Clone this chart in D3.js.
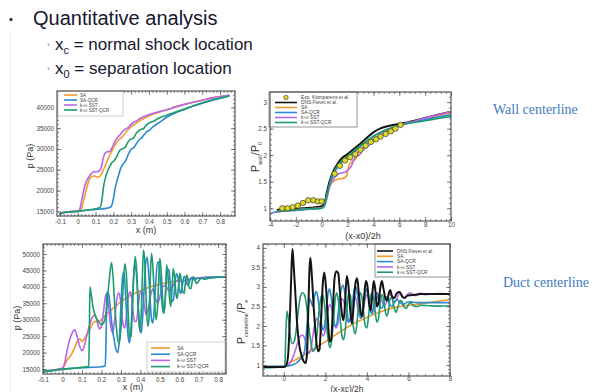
<!DOCTYPE html>
<html>
<head>
<meta charset="utf-8">
<script src="https://cdn.jsdelivr.net/npm/d3@7"></script>
<style>
  html, body { margin: 0; padding: 0; background: #fff; }
  svg { display: block; }
</style>
</head>
<body>
<svg id="slide" width="601" height="392"></svg>
<script>
// ---------- labels ----------
const modelNames = ["SA", "SA-QCR", "k-\u03C9 SST", "k-\u03C9 SST-QCR"];
const expName = "Exp. Klomparens et al.";
const dnsName = "DNS Fievet et al.";

// ---------- tick values ----------
const wallXTicks = [-0.1, 0, 0.1, 0.2, 0.3, 0.4, 0.5, 0.6, 0.7, 0.8];
const wallYTicks = [15000, 20000, 25000, 30000, 35000, 40000];
const wallNormXTicks = [-4, -2, 0, 2, 4, 6, 8, 10];
const wallNormYTicks = [1, 1.5, 2, 2.5, 3];
const ductXTicks = [-0.1, 0, 0.1, 0.2, 0.3, 0.4, 0.5, 0.6, 0.7, 0.8];
const ductYTicks = [15000, 20000, 25000, 30000, 35000, 40000, 45000, 50000];
const ductNormXTicks = [0, 2, 4, 6, 8];
const ductNormYTicks = [1, 1.5, 2, 2.5, 3, 3.5, 4];

// ---------- wall centerline: p (Pa) vs x (m) ----------
const wallSA = [[-0.1,14450],[-0.08,14750],[-0.06,14850],[-0.03,14950],[0,15050],[0.015,15300],[0.025,16200],[0.035,18000],[0.05,20600],[0.065,22600],[0.08,23400],[0.095,23500],[0.11,23200],[0.125,23400],[0.14,24600],[0.155,26000],[0.17,27600],[0.185,29000],[0.2,30200],[0.215,31300],[0.23,32200],[0.245,32700],[0.26,33400],[0.28,34500],[0.3,35300],[0.32,35900],[0.35,36800],[0.38,37500],[0.42,38300],[0.46,38900],[0.5,39400],[0.55,40100],[0.6,40700],[0.65,41200],[0.7,41700],[0.75,42200],[0.8,42600],[0.85,42900]];
const wallSAQCR = [[-0.1,14300],[-0.08,14650],[-0.05,14800],[0,15000],[0.05,15250],[0.1,15450],[0.15,15650],[0.18,15900],[0.19,16300],[0.2,18000],[0.21,20500],[0.225,23000],[0.24,25200],[0.255,26400],[0.27,27200],[0.285,28800],[0.3,29900],[0.315,30300],[0.33,31300],[0.345,32200],[0.36,32700],[0.375,33500],[0.39,34200],[0.405,34500],[0.42,35200],[0.44,35800],[0.46,36400],[0.5,37600],[0.55,38700],[0.6,39500],[0.65,40300],[0.7,41000],[0.75,41600],[0.8,42200],[0.85,42700]];
const wallSST = [[-0.1,14450],[-0.08,14750],[-0.06,14850],[-0.03,14950],[0,15050],[0.01,15400],[0.02,17200],[0.03,19400],[0.045,21800],[0.06,23100],[0.075,24000],[0.09,24500],[0.105,24500],[0.12,24700],[0.132,25600],[0.142,27600],[0.152,28900],[0.165,29300],[0.18,29400],[0.19,30100],[0.2,31000],[0.21,31900],[0.222,32700],[0.238,33400],[0.255,34300],[0.27,34800],[0.285,35200],[0.3,35900],[0.315,36400],[0.33,36700],[0.35,37300],[0.38,37900],[0.42,38500],[0.46,39000],[0.5,39400],[0.55,40100],[0.6,40700],[0.65,41200],[0.7,41700],[0.75,42200],[0.8,42600],[0.85,42900]];
const wallSSTQCR = [[-0.1,14400],[-0.08,14700],[-0.05,14850],[0,15000],[0.05,15300],[0.1,15600],[0.125,15900],[0.135,17500],[0.145,21000],[0.16,23800],[0.175,25400],[0.19,26600],[0.205,27200],[0.22,28200],[0.235,29600],[0.25,30000],[0.265,30300],[0.28,31500],[0.295,32300],[0.31,32500],[0.33,33800],[0.35,34600],[0.37,34900],[0.39,35900],[0.41,36400],[0.43,36700],[0.45,37300],[0.5,38100],[0.55,38900],[0.6,39600],[0.65,40400],[0.7,41100],[0.75,41700],[0.8,42200],[0.85,42700]];

// ---------- wall centerline: P_wall/P_0 vs (x-x0)/2h ----------
const wallNormExp = [[-3.05,1.0],[-2.65,1.0],[-2.25,1.02],[-1.85,1.05],[-1.45,1.1],[-1.05,1.15],[-0.65,1.15],[-0.3,1.13],[0.0,1.13],[1.0,1.65],[1.4,1.8],[1.8,1.9],[2.2,1.96],[2.6,2.02],[3.0,2.1],[3.4,2.18],[3.8,2.25],[4.2,2.3],[4.55,2.35],[4.95,2.4],[5.35,2.45],[5.7,2.5],[6.1,2.57]];
const wallNormDNS = [[-3.4,0.97],[-2.5,0.98],[-1.5,1.0],[-0.5,1.02],[0,1.04],[0.2,1.08],[0.4,1.3],[0.6,1.5],[0.9,1.7],[1.2,1.83],[1.5,1.93],[2.0,2.02],[2.5,2.12],[3.0,2.22],[3.5,2.33],[4.0,2.43],[4.5,2.5],[5.0,2.54],[5.5,2.57],[6.0,2.59],[6.5,2.61],[7.0,2.64],[8.0,2.7],[9.0,2.76],[10,2.82]];
const wallNormSA = [[-3.6,0.93],[-3,0.95],[-2,0.97],[-1,0.99],[0,1.01],[0.2,1.05],[0.4,1.25],[0.7,1.45],[1.0,1.52],[1.3,1.55],[1.6,1.56],[1.9,1.6],[2.1,1.8],[2.3,1.88],[2.6,1.92],[2.9,2.08],[3.2,2.15],[3.5,2.22],[3.8,2.28],[4.2,2.33],[4.6,2.39],[5.0,2.44],[5.5,2.5],[6.0,2.55],[6.5,2.59],[7.0,2.62],[8.0,2.68],[9.0,2.74],[10,2.8]];
const wallNormSAQCR = [[-4,0.9],[-3.5,0.93],[-2,0.96],[-1,0.98],[0,1.0],[0.2,1.04],[0.4,1.2],[0.7,1.5],[1.0,1.68],[1.5,1.85],[2.0,1.96],[2.5,2.06],[3.0,2.17],[3.5,2.26],[4.0,2.35],[4.5,2.42],[5.0,2.48],[5.5,2.52],[6.0,2.56],[7.0,2.62],[8.0,2.67],[9.0,2.72],[10,2.76]];
const wallNormSST = [[-3.6,0.93],[-2,0.97],[-1,0.99],[0,1.0],[0.3,1.1],[0.6,1.4],[1.0,1.58],[1.4,1.66],[1.8,1.68],[2.1,1.74],[2.3,1.8],[2.6,1.97],[2.9,2.0],[3.2,2.1],[3.5,2.15],[3.8,2.22],[4.1,2.3],[4.5,2.38],[5.0,2.45],[5.5,2.5],[6.0,2.56],[6.5,2.6],[7,2.63],[8,2.7],[9,2.76],[10,2.82]];
const wallNormSSTQCR = [[-3.5,0.94],[-2,0.97],[-1,0.99],[0,1.0],[0.2,1.05],[0.4,1.25],[0.7,1.55],[1.0,1.72],[1.5,1.88],[2.0,1.98],[2.5,2.08],[3.0,2.18],[3.5,2.27],[4.0,2.36],[4.5,2.43],[5.0,2.48],[5.5,2.52],[6.0,2.56],[7.0,2.61],[8.0,2.65],[9.0,2.69],[10,2.73]];

// ---------- duct centerline: p (Pa) vs x (m) ----------
const ductSA = [[-0.1,14300],[-0.05,14700],[0,15200],[0.01,16000],[0.02,17300],[0.03,18200],[0.045,19300],[0.06,21200],[0.075,23300],[0.09,24200],[0.1,23400],[0.11,24000],[0.125,25500],[0.14,27000],[0.155,28800],[0.17,29500],[0.185,29400],[0.2,30000],[0.215,31000],[0.23,32000],[0.245,32600],[0.26,33500],[0.28,34500],[0.3,35500],[0.32,36300],[0.34,37100],[0.37,38000],[0.4,38800],[0.43,39600],[0.47,40300],[0.5,40800],[0.55,41400],[0.6,41900],[0.65,42300],[0.7,42700],[0.75,42900],[0.8,43000],[0.84,43000]];
const ductSAQCR = [[-0.1,14200],[0,15000],[0.1,15400],[0.2,15700],[0.22,16000],[0.224,25000],[0.228,37500],[0.235,38600],[0.245,34000],[0.255,28000],[0.265,24000],[0.275,21000],[0.285,20000],[0.292,24000],[0.3,34000],[0.308,42500],[0.315,44500],[0.322,40000],[0.33,31000],[0.338,24500],[0.345,23000],[0.352,27500],[0.36,37000],[0.368,45000],[0.375,46500],[0.382,42000],[0.39,33000],[0.398,27000],[0.405,26000],[0.412,31000],[0.42,40000],[0.428,47500],[0.435,49000],[0.442,45000],[0.45,36500],[0.458,30000],[0.465,29000],[0.472,34000],[0.48,42000],[0.488,47500],[0.495,47500],[0.502,42500],[0.51,35500],[0.518,32000],[0.525,34000],[0.532,40500],[0.54,45500],[0.547,45000],[0.555,40000],[0.562,35500],[0.57,36000],[0.578,41000],[0.585,44000],[0.593,43000],[0.6,39500],[0.608,38000],[0.616,40500],[0.625,43200],[0.633,42500],[0.642,40500],[0.652,41500],[0.662,42800],[0.675,42200],[0.69,42500],[0.71,42700],[0.74,42800],[0.78,43000],[0.84,43000]];
const ductSST = [[-0.1,14300],[0,15200],[0.01,16500],[0.02,19500],[0.035,23500],[0.05,26000],[0.063,26900],[0.075,25000],[0.088,22000],[0.1,20600],[0.11,21500],[0.12,24000],[0.135,27500],[0.15,30300],[0.16,31300],[0.168,31400],[0.178,29500],[0.19,27200],[0.2,28000],[0.21,32000],[0.22,36800],[0.228,38000],[0.238,33000],[0.248,28000],[0.258,26000],[0.268,30000],[0.28,36500],[0.29,38200],[0.3,35000],[0.31,29000],[0.32,27500],[0.33,32000],[0.34,37500],[0.35,38500],[0.36,34000],[0.37,29500],[0.38,29500],[0.39,34500],[0.4,38500],[0.41,38500],[0.42,34500],[0.43,31500],[0.44,33000],[0.455,38000],[0.465,39300],[0.475,37000],[0.49,35000],[0.5,37000],[0.515,40000],[0.53,40500],[0.545,38800],[0.56,39500],[0.58,41500],[0.6,42000],[0.62,41800],[0.65,42300],[0.7,42700],[0.75,42900],[0.8,43000],[0.84,43000]];
const ductSSTQCR = [[-0.1,14200],[-0.05,14500],[0,14900],[0.05,15200],[0.1,15500],[0.135,15800],[0.138,25000],[0.141,40000],[0.148,37500],[0.158,33500],[0.17,31000],[0.185,29500],[0.2,28500],[0.215,29500],[0.228,34000],[0.24,42000],[0.252,47400],[0.26,43000],[0.268,35000],[0.278,27000],[0.29,22500],[0.3,27000],[0.31,38000],[0.32,47000],[0.328,44000],[0.337,33000],[0.345,24500],[0.352,25000],[0.36,34000],[0.367,44500],[0.374,49200],[0.382,44000],[0.39,33000],[0.397,26500],[0.404,31000],[0.41,42000],[0.416,51200],[0.423,47500],[0.43,36000],[0.438,28000],[0.444,30000],[0.45,40500],[0.457,50200],[0.464,46500],[0.472,37000],[0.48,30000],[0.487,32500],[0.494,41500],[0.5,48700],[0.507,45000],[0.514,37000],[0.521,32000],[0.528,36000],[0.535,46700],[0.542,43500],[0.55,36500],[0.556,34000],[0.562,38500],[0.569,45600],[0.576,43000],[0.584,37500],[0.59,36500],[0.596,40000],[0.603,44100],[0.61,42000],[0.618,38500],[0.625,38000],[0.631,41000],[0.638,43600],[0.645,42000],[0.652,39500],[0.66,39500],[0.666,41500],[0.672,43100],[0.68,42000],[0.69,41000],[0.7,41800],[0.715,42600],[0.73,42300],[0.75,42600],[0.8,42900],[0.84,43000]];

// ---------- duct centerline: P_centerline/P_e vs (x-xc)/2h ----------
const ductNormDNS = [[-1,0.95],[0,0.95],[0.1,0.98],[0.2,1.2],[0.3,2.3],[0.38,3.6],[0.42,3.97],[0.47,3.6],[0.55,2.9],[0.65,2.0],[0.75,1.5],[0.85,1.25],[0.95,1.1],[1.05,1.05],[1.12,1.3],[1.18,2.4],[1.24,3.5],[1.28,3.75],[1.35,3.3],[1.45,2.4],[1.55,1.7],[1.65,1.35],[1.72,1.4],[1.8,2.2],[1.88,3.1],[1.95,3.37],[2.03,3.0],[2.12,2.2],[2.2,1.6],[2.28,1.65],[2.36,2.4],[2.45,3.25],[2.53,3.4],[2.62,3.35],[2.7,2.9],[2.8,2.3],[2.88,2.15],[2.95,2.6],[3.03,3.28],[3.1,3.1],[3.2,2.4],[3.28,2.06],[3.36,2.5],[3.45,3.1],[3.53,3.22],[3.62,2.8],[3.72,2.3],[3.78,2.25],[3.86,2.7],[3.95,3.15],[4.02,3.05],[4.1,2.6],[4.18,2.4],[4.26,2.8],[4.33,3.15],[4.4,2.95],[4.48,2.5],[4.56,2.6],[4.65,3.0],[4.72,3.15],[4.8,2.95],[4.9,2.7],[4.98,2.65],[5.06,2.85],[5.12,2.92],[5.22,2.75],[5.32,2.72],[5.45,2.85],[5.58,2.87],[5.7,2.75],[5.82,2.72],[5.95,2.78],[6.1,2.79],[6.3,2.8],[6.6,2.82],[7,2.82],[7.5,2.82],[8,2.82]];
const ductNormSA = [[-1,0.95],[0,0.96],[0.2,1.03],[0.5,1.12],[1.0,1.27],[1.5,1.43],[2.0,1.6],[2.5,1.78],[3.0,1.95],[3.5,2.1],[4.0,2.22],[4.5,2.33],[5.0,2.43],[5.5,2.49],[6.0,2.53],[6.5,2.56],[7.0,2.6],[7.5,2.64],[8.0,2.68]];
const ductNormSAQCR = [[-1,0.97],[0,0.97],[0.2,0.98],[0.4,1.0],[0.6,1.05],[0.8,1.15],[0.9,1.2],[1.0,1.35],[1.1,1.9],[1.18,2.5],[1.25,2.7],[1.32,2.6],[1.4,2.5],[1.48,2.75],[1.55,2.88],[1.62,2.8],[1.72,2.4],[1.8,2.1],[1.88,1.9],[1.96,2.0],[2.05,2.45],[2.12,2.8],[2.2,2.95],[2.28,2.75],[2.38,2.3],[2.46,2.0],[2.55,2.05],[2.65,2.5],[2.75,2.9],[2.85,3.05],[2.95,2.8],[3.05,2.4],[3.12,2.1],[3.2,2.15],[3.3,2.55],[3.4,2.95],[3.48,3.0],[3.56,2.75],[3.65,2.35],[3.72,2.2],[3.8,2.35],[3.9,2.75],[3.98,2.95],[4.06,2.8],[4.15,2.45],[4.24,2.3],[4.32,2.5],[4.42,2.8],[4.5,2.85],[4.58,2.65],[4.68,2.45],[4.78,2.5],[4.88,2.72],[4.98,2.75],[5.08,2.58],[5.2,2.5],[5.32,2.6],[5.45,2.68],[5.6,2.6],[5.75,2.55],[5.9,2.6],[6.1,2.62],[6.4,2.6],[7,2.6],[8,2.6]];
const ductNormSST = [[-1,0.95],[0,0.96],[0.2,1.0],[0.4,1.15],[0.6,1.45],[0.75,1.7],[0.88,1.77],[1.0,1.7],[1.1,1.45],[1.2,1.3],[1.3,1.4],[1.4,1.75],[1.5,2.05],[1.6,2.2],[1.7,2.1],[1.8,1.85],[1.9,1.75],[2.0,1.9],[2.1,2.3],[2.2,2.55],[2.3,2.45],[2.4,2.15],[2.5,1.95],[2.6,2.05],[2.7,2.45],[2.8,2.7],[2.9,2.6],[3.0,2.3],[3.1,2.1],[3.2,2.2],[3.3,2.55],[3.4,2.75],[3.5,2.65],[3.6,2.35],[3.7,2.2],[3.8,2.35],[3.9,2.65],[4.0,2.8],[4.1,2.7],[4.2,2.45],[4.3,2.35],[4.4,2.5],[4.5,2.75],[4.6,2.82],[4.7,2.7],[4.8,2.55],[4.9,2.55],[5.0,2.72],[5.1,2.82],[5.2,2.75],[5.3,2.62],[5.4,2.65],[5.5,2.78],[5.6,2.84],[5.7,2.78],[5.8,2.72],[5.9,2.76],[6.0,2.83],[6.1,2.85],[6.2,2.8],[6.35,2.78],[6.5,2.83],[6.65,2.84],[6.8,2.8],[7,2.82],[7.5,2.83],[8,2.82]];
const ductNormSSTQCR = [[-1,0.93],[0,0.95],[0.05,1.0],[0.1,1.8],[0.15,2.38],[0.22,2.2],[0.3,1.8],[0.4,1.55],[0.5,1.6],[0.6,1.9],[0.7,2.4],[0.8,2.75],[0.9,2.85],[1.0,2.8],[1.1,2.5],[1.2,2.0],[1.3,1.6],[1.4,1.35],[1.5,1.4],[1.6,1.8],[1.7,2.4],[1.8,2.75],[1.88,2.8],[1.96,2.55],[2.05,2.05],[2.15,1.6],[2.22,1.45],[2.3,1.6],[2.4,2.2],[2.48,2.7],[2.55,2.85],[2.63,2.65],[2.72,2.15],[2.8,1.75],[2.88,1.65],[2.96,1.9],[3.05,2.5],[3.12,2.85],[3.2,2.8],[3.28,2.35],[3.36,1.95],[3.44,1.8],[3.52,2.05],[3.6,2.55],[3.68,2.85],[3.76,2.75],[3.84,2.35],[3.92,2.0],[4.0,1.95],[4.08,2.25],[4.16,2.7],[4.24,2.85],[4.32,2.7],[4.4,2.35],[4.48,2.1],[4.56,2.2],[4.64,2.6],[4.72,2.8],[4.8,2.7],[4.88,2.4],[4.96,2.25],[5.04,2.4],[5.12,2.7],[5.2,2.72],[5.3,2.5],[5.4,2.35],[5.5,2.5],[5.6,2.65],[5.7,2.62],[5.8,2.48],[5.9,2.45],[6.0,2.55],[6.1,2.6],[6.25,2.52],[6.4,2.5],[6.6,2.53],[7,2.52],[7.5,2.51],[8,2.52]];

// ---------- styling ----------
const FONT = '"Liberation Sans", Arial, sans-serif';
const SERIF = '"Liberation Serif", "Times New Roman", serif';
const modelColors = ["#f39a2e", "#2a8ad4", "#b865e6", "#1d9b6c"];
const dnsColor = "#141414";

const svg = d3.select("#slide");

// faint slide margin rule
svg.append("line").attr("x1", 10.5).attr("x2", 10.5).attr("y1", 30).attr("y2", 392)
  .attr("stroke", "#e3edf7").attr("stroke-width", 1);

// ---------- slide heading ----------
svg.append("circle").attr("cx", 11).attr("cy", 19.5).attr("r", 1.7).attr("fill", "#3c3c55");
svg.append("text").attr("x", 33).attr("y", 25)
  .attr("font-family", FONT).attr("font-size", 20).attr("fill", "#16162e")
  .text("Quantitative analysis");

function subBullet(y, sub, rest) {
  svg.append("circle").attr("cx", 48.5).attr("cy", y - 5).attr("r", 1).attr("fill", "#9a9aae");
  const t = svg.append("text").attr("x", 55).attr("y", y)
    .attr("font-family", FONT).attr("font-size", 17).attr("fill", "#16162e");
  t.append("tspan").text("x");
  t.append("tspan").attr("font-size", 11).attr("dy", 4).text(sub);
  t.append("tspan").attr("dy", -4).text(rest);
}
subBullet(49.5, "c", " = normal shock location");
subBullet(73.5, "0", " = separation location");

// side captions
svg.append("text").attr("x", 493).attr("y", 114).attr("font-family", SERIF)
  .attr("font-size", 14).attr("fill", "#3f7bc4").text("Wall centerline");
svg.append("text").attr("x", 503).attr("y", 287).attr("font-family", SERIF)
  .attr("font-size", 14).attr("fill", "#3f7bc4").text("Duct centerline");

// ---------- panel drawing ----------
function minorValues(domain, step) {
  const out = [];
  const start = Math.ceil(domain[0] / step - 1e-9);
  const end = Math.floor(domain[1] / step + 1e-9);
  for (let i = start; i <= end; i++) out.push(+(i * step).toFixed(6));
  return out;
}

function drawPanel(p) {
  const x = d3.scaleLinear().domain(p.xDomain).range([p.left, p.right]);
  const y = d3.scaleLinear().domain(p.yDomain).range([p.bottom, p.top]);
  const g = svg.append("g");
  const clipId = "clip-" + p.id;
  g.append("clipPath").attr("id", clipId).append("rect")
    .attr("x", p.left).attr("y", p.top)
    .attr("width", p.right - p.left).attr("height", p.bottom - p.top);

  const plot = g.append("g").attr("clip-path", `url(#${clipId})`);
  const line = d3.line().x(d => x(d[0])).y(d => y(d[1])).curve(d3.curveMonotoneX);
  p.series.forEach(s => {
    plot.append("path").attr("d", line(s.data)).attr("fill", "none")
      .attr("stroke", s.color).attr("stroke-width", s.width || 1.6)
      .attr("stroke-linejoin", "round").attr("stroke-linecap", "round");
  });
  if (p.markers) {
    plot.selectAll("circle.exp").data(p.markers.data).join("circle")
      .attr("class", "exp")
      .attr("cx", d => x(d[0])).attr("cy", d => y(d[1])).attr("r", 2.7)
      .attr("fill", "#dcdc24").attr("stroke", "#4a4a3a").attr("stroke-width", 0.8);
  }

  // ticks on all four sides, pointing inward
  const tickStyle = sel => {
    sel.select(".domain").remove();
    sel.selectAll("line").attr("stroke", "#555").attr("stroke-width", 0.7);
    sel.selectAll("text").attr("font-family", FONT).attr("font-size", p.tickFont || 6.5).attr("fill", "#444");
  };
  const xMinor = minorValues(p.xDomain, p.xMinorStep);
  const yMinor = minorValues(p.yDomain, p.yMinorStep);
  g.append("g").attr("transform", `translate(0,${p.bottom})`)
    .call(d3.axisBottom(x).tickValues(xMinor).tickSize(-2).tickFormat("")).call(tickStyle);
  g.append("g").attr("transform", `translate(0,${p.top})`)
    .call(d3.axisTop(x).tickValues(xMinor).tickSize(-2).tickFormat("")).call(tickStyle);
  g.append("g").attr("transform", `translate(${p.left},0)`)
    .call(d3.axisLeft(y).tickValues(yMinor).tickSize(-2).tickFormat("")).call(tickStyle);
  g.append("g").attr("transform", `translate(${p.right},0)`)
    .call(d3.axisRight(y).tickValues(yMinor).tickSize(-2).tickFormat("")).call(tickStyle);

  g.append("g").attr("transform", `translate(0,${p.bottom})`)
    .call(d3.axisBottom(x).tickValues(p.xTicks).tickSize(-4).tickPadding(p.xPad || 4).tickFormat(p.xFmt))
    .call(tickStyle);
  g.append("g").attr("transform", `translate(0,${p.top})`)
    .call(d3.axisTop(x).tickValues(p.xTicks).tickSize(-4).tickFormat("")).call(tickStyle);
  g.append("g").attr("transform", `translate(${p.left},0)`)
    .call(d3.axisLeft(y).tickValues(p.yTicks).tickSize(-4).tickPadding(p.yPad || 3).tickFormat(p.yFmt))
    .call(tickStyle);
  g.append("g").attr("transform", `translate(${p.right},0)`)
    .call(d3.axisRight(y).tickValues(p.yTicks).tickSize(-4).tickFormat("")).call(tickStyle);

  // legend
  const L = p.legend;
  g.append("rect").attr("x", L.x).attr("y", L.y).attr("width", L.w).attr("height", L.h)
    .attr("fill", "#fff").attr("stroke", L.stroke).attr("stroke-width", 0.7);
  L.entries.forEach((e, i) => {
    const yy = L.y + L.first + i * L.step;
    if (e.marker) {
      g.append("circle").attr("cx", (L.lx0 + L.lx1) / 2).attr("cy", yy).attr("r", 2.2)
        .attr("fill", "#dcdc24").attr("stroke", "#4a4a3a").attr("stroke-width", 0.7);
    } else {
      g.append("line").attr("x1", L.lx0).attr("x2", L.lx1).attr("y1", yy).attr("y2", yy)
        .attr("stroke", e.color).attr("stroke-width", 1.6);
    }
    g.append("text").attr("x", L.tx).attr("y", yy).attr("dy", "0.35em")
      .attr("font-family", FONT).attr("font-size", L.fs).attr("fill", "#444").text(e.name);
  });

  // frame
  g.append("rect").attr("x", p.left).attr("y", p.top)
    .attr("width", p.right - p.left).attr("height", p.bottom - p.top)
    .attr("fill", "none").attr("stroke", "#555").attr("stroke-width", 1.2);
  return g;
}

const modelEntries = modelNames.map((n, i) => ({ name: n, color: modelColors[i] }));
const plainFmt = d => String(d);

// top-left: wall pressure
drawPanel({
  id: "wall", left: 57, right: 235, top: 91, bottom: 216,
  xDomain: [-0.117, 0.884], yDomain: [13870, 43920],
  xTicks: wallXTicks, yTicks: wallYTicks, xMinorStep: 0.02, yMinorStep: 1000,
  xFmt: plainFmt, yFmt: plainFmt, tickFont: 6.3,
  series: [
    { data: wallSA, color: modelColors[0] },
    { data: wallSAQCR, color: modelColors[1] },
    { data: wallSST, color: modelColors[2] },
    { data: wallSSTQCR, color: modelColors[3] }
  ],
  legend: { x: 58, y: 91, w: 65, h: 25, first: 4, step: 5, lx0: 64, lx1: 77, tx: 80, fs: 4.6,
    stroke: "#bbb", entries: modelEntries }
});

// top-right: normalised wall pressure
drawPanel({
  id: "wallnorm", left: 270, right: 451, top: 92, bottom: 221,
  xDomain: [-4, 10], yDomain: [0.76, 3.19],
  xTicks: wallNormXTicks, yTicks: wallNormYTicks, xMinorStep: 0.4, yMinorStep: 0.1,
  xFmt: plainFmt, yFmt: plainFmt, tickFont: 6.3, xPad: 2,
  series: [
    { data: wallNormDNS, color: dnsColor, width: 2 },
    { data: wallNormSA, color: modelColors[0] },
    { data: wallNormSAQCR, color: modelColors[1] },
    { data: wallNormSST, color: modelColors[2] },
    { data: wallNormSSTQCR, color: modelColors[3] }
  ],
  markers: { data: wallNormExp },
  legend: { x: 269, y: 92, w: 88, h: 35, first: 5.5, step: 5, lx0: 275, lx1: 297, tx: 301, fs: 4.8,
    stroke: "#666",
    entries: [{ name: expName, marker: true }, { name: dnsName, color: dnsColor }].concat(modelEntries) }
});

// bottom-left: duct pressure
drawPanel({
  id: "duct", left: 43, right: 226, top: 244, bottom: 374,
  xDomain: [-0.1, 0.84], yDomain: [13480, 53040],
  xTicks: ductXTicks, yTicks: ductYTicks, xMinorStep: 0.02, yMinorStep: 1000,
  xFmt: plainFmt, yFmt: plainFmt, tickFont: 6.3,
  series: [
    { data: ductSA, color: modelColors[0] },
    { data: ductSST, color: modelColors[2] },
    { data: ductSAQCR, color: modelColors[1] },
    { data: ductSSTQCR, color: modelColors[3] }
  ],
  legend: { x: 147, y: 342, w: 78, h: 30, first: 6, step: 6.2, lx0: 151, lx1: 170, tx: 177, fs: 5,
    stroke: "#bbb", entries: modelEntries }
});

// bottom-right: normalised duct pressure
drawPanel({
  id: "ductnorm", left: 263, right: 450, top: 244, bottom: 376,
  xDomain: [-1, 8], yDomain: [0.72, 4.1],
  xTicks: ductNormXTicks, yTicks: ductNormYTicks, xMinorStep: 0.4, yMinorStep: 0.1,
  xFmt: plainFmt, yFmt: plainFmt, tickFont: 6.3, xPad: 1,
  series: [
    { data: ductNormSA, color: modelColors[0] },
    { data: ductNormSST, color: modelColors[2] },
    { data: ductNormSAQCR, color: modelColors[1] },
    { data: ductNormSSTQCR, color: modelColors[3] },
    { data: ductNormDNS, color: dnsColor, width: 2 }
  ],
  legend: { x: 375, y: 244, w: 75, h: 33, first: 7, step: 5.3, lx0: 377, lx1: 393, tx: 397, fs: 4.8,
    stroke: "#666",
    entries: [{ name: dnsName, color: dnsColor }].concat(modelEntries) }
});

// ---------- axis titles ----------
function plainLabel(x, y, text, size, rotate) {
  svg.append("text").attr("transform", `translate(${x},${y})` + (rotate ? " rotate(-90)" : ""))
    .attr("text-anchor", "middle").attr("font-family", FONT).attr("font-size", size)
    .attr("fill", "#333").text(text);
}
plainLabel(146, 233, "x (m)", 9);
plainLabel(33, 156, "p (Pa)", 9, true);
plainLabel(133, 390, "x (m)", 9);
plainLabel(20, 318, "p (Pa)", 9, true);
plainLabel(363, 238.5, "(x-x0)/2h", 9);
plainLabel(347, 391.5, "(x-xc)/2h", 8.5);

function ratioLabel(x, y, sub1, sub2) {
  const t = svg.append("text").attr("transform", `translate(${x},${y}) rotate(-90)`)
    .attr("text-anchor", "middle").attr("font-family", FONT).attr("font-size", 11).attr("fill", "#333");
  t.append("tspan").text("P");
  t.append("tspan").attr("font-size", 5.5).attr("dy", 2.5).text(sub1);
  t.append("tspan").attr("dy", -2.5).text("/P");
  t.append("tspan").attr("font-size", 5.5).attr("dy", 2.5).text(sub2);
}
ratioLabel(259, 157, "wall", "0");
ratioLabel(245, 322, "centerline", "e");
</script>
</body>
</html>
